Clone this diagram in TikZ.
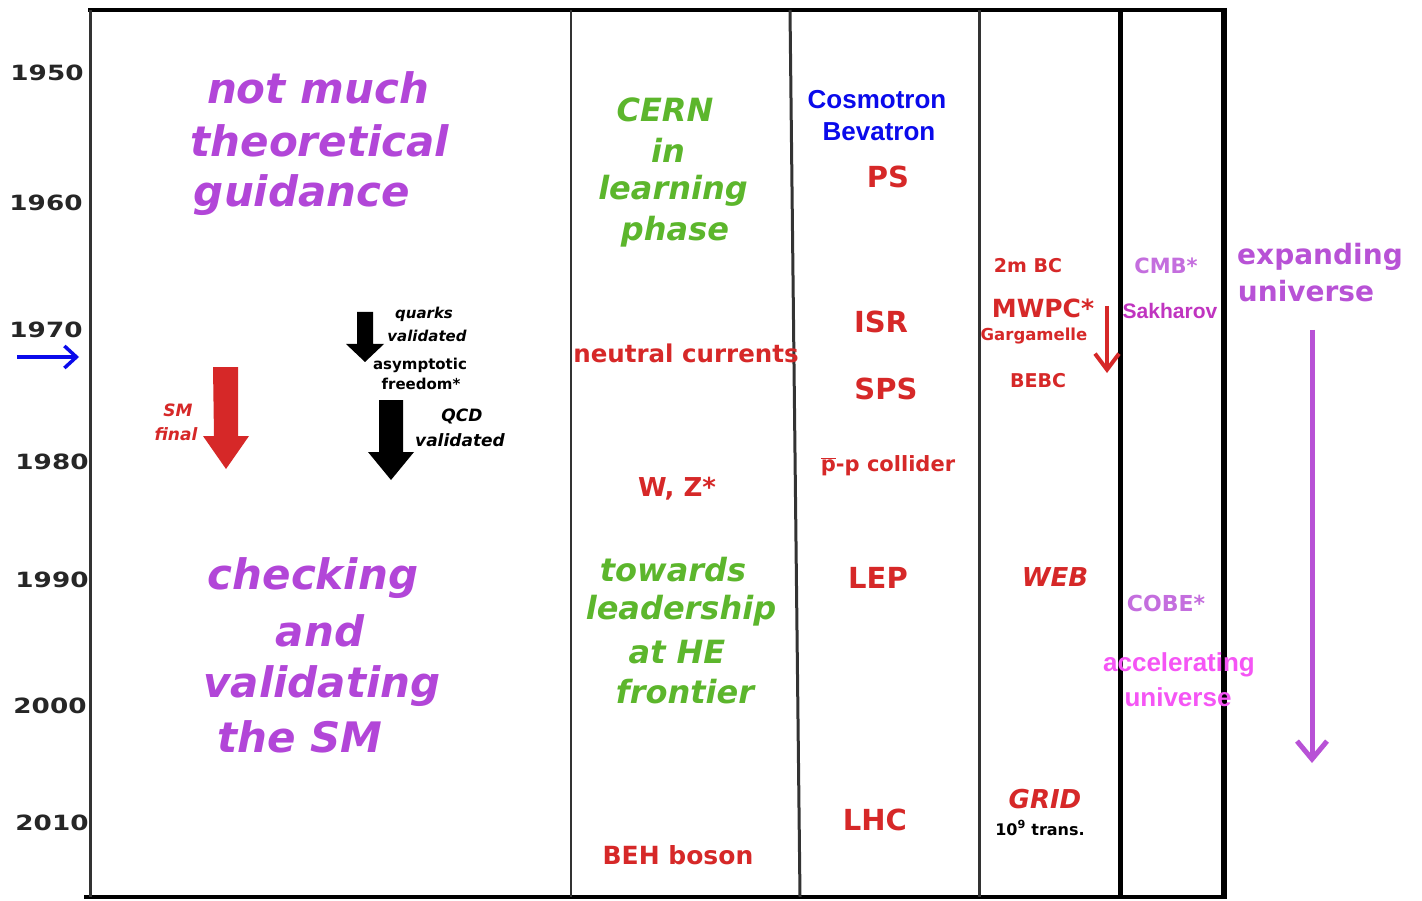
\documentclass[tikz,border=0pt]{standalone}
\usepackage{fontspec}
\setmainfont{DejaVu Sans}
\newfontfamily\arialf{Liberation Sans}
\newfontfamily\yearf[FakeStretch=1.25]{DejaVu Sans Bold}
\usetikzlibrary{arrows.meta}
\definecolor{purp}{RGB}{178,70,216}
\definecolor{grn}{RGB}{92,182,44}
\definecolor{rd}{RGB}{214,40,40}
\definecolor{blu}{RGB}{10,10,235}
\definecolor{mag}{RGB}{245,85,245}
\definecolor{sakh}{RGB}{192,52,192}
\definecolor{lpurp}{RGB}{196,110,222}
\definecolor{expc}{RGB}{184,82,214}
\tikzset{
  year/.style={font=\yearf\fontsize{21}{24}\selectfont, text=black!85},
  bigp/.style={font=\bfseries\itshape\fontsize{42}{48}\selectfont, text=purp},
  bigg/.style={font=\bfseries\itshape\fontsize{32}{36}\selectfont, text=grn},
  redt/.style={font=\bfseries\fontsize{#1}{#1}\selectfont, text=rd},
  redt/.default=30,
  redi/.style={font=\bfseries\itshape\fontsize{#1}{#1}\selectfont, text=rd},
  blkl/.style={font=\bfseries\itshape\fontsize{#1}{#1}\selectfont, text=black},
  blkn/.style={font=\bfseries\fontsize{#1}{#1}\selectfont, text=black},
  arl/.style={font=\arialf\bfseries\fontsize{#1}{#1}\selectfont},
  sep/.style={line width=#1, draw=black!80},
  blockarrow/.style={fill=#1, draw=none}
}
\begin{document}
\begin{tikzpicture}[x=1pt,y=-1pt]
\useasboundingbox[fill=white] (0,0) rectangle (1422,901);

% frame and column separators
\draw[sep=4pt, draw=black] (88,10) -- (1224,10);
\draw[sep=4pt, draw=black] (84,897) -- (1226,897);
\draw[sep=3pt] (90,10) -- (90,897);
\draw[sep=2.5pt] (571,10) -- (571,897);
\draw[sep=3pt] (790,10) -- (800,897);
\draw[sep=3pt] (979,10) -- (979,897);
\draw[sep=5pt, draw=black] (1120,10) -- (1120,897);
\draw[sep=5.5pt, draw=black] (1224,8) -- (1224,899);

% years
\node[year] (y1950) at (47,73) {1950};
\node[year] (y1960) at (46,203) {1960};
\node[year] (y1970) at (46,330) {1970};
\node[year] (y1980) at (52,462) {1980};
\node[year] (y1990) at (52,580) {1990};
\node[year] (y2000) at (50,706) {2000};
\node[year] (y2010) at (52,823) {2010};
\coordinate (ba1) at (17,357);
\coordinate (ba2) at (79,357);
\draw[line width=3.5pt, draw=blu, -{Straight Barb[length=12pt,width=22pt,line width=3.5pt]}] (ba1) -- (ba2);

% column 1
\node[bigp] (t1) at (318,88) {not much};
\node[bigp] (t2) at (320,141) {theoretical};
\node[bigp] (t3) at (302,195) {guidance};
\node[bigp] (c1) at (313,578) {checking};
\node[bigp] (c2) at (320,631) {and};
\node[bigp] (c3) at (322,686) {validating};
\node[bigp] (c4) at (300,737) {the SM};

\node[redi=17] (sm1) at (178,410) {SM};
\node[redi=17] (sm2) at (176,434) {final};
\fill[blockarrow=rd] (213,367) -- (238,367) -- (238,436) -- (249,436) -- (226,469) -- (203,436) -- (214,436) -- cycle;

\fill[blockarrow=black] (357,312) -- (373,312) -- (373,344) -- (384,344) -- (365,362) -- (346,344) -- (357,344) -- cycle;
\fill[blockarrow=black] (379,400) -- (403,400) -- (403,452) -- (414,452) -- (391,480) -- (368,452) -- (379,452) -- cycle;
\node[blkl=15] (q1) at (424,314) {quarks};
\node[blkl=15] (q2) at (427,336) {validated};
\node[blkn=15] (a1) at (420,365) {asymptotic};
\node[blkn=15] (a2) at (421,384) {freedom*};
\node[blkl=17] (qcd1) at (462,416) {QCD};
\node[blkl=17] (qcd2) at (460,440) {validated};

% column 2
\node[bigg] (g1) at (665,110) {CERN};
\node[bigg] (g2) at (668,150) {in};
\node[bigg] (g3) at (673,191) {learning};
\node[bigg] (g4) at (675,232) {phase};
\node[redt=24.5] (nc) at (686,353) {neutral currents};
\node[redt=26] (wz) at (677,489) {W, Z*};
\node[bigg] (h1) at (673,570) {towards};
\node[bigg] (h2) at (681,611) {leadership};
\node[bigg] (h3) at (677,652) {at HE};
\node[bigg] (h4) at (685,692) {frontier};
\node[redt=25] (beh) at (678,855) {BEH boson};

% column 3
\node[arl=26, text=blu] (cos) at (877,100) {Cosmotron};
\node[arl=26, text=blu] (bev) at (879,132) {Bevatron};
\node[redt=29] (ps) at (888,177) {PS};
\node[redt=29] (isr) at (881,322) {ISR};
\node[redt=29] (sps) at (886,389) {SPS};
\node[redt=21] (ppc) at (888,466) {$\overline{\mbox{p}}$-p collider};
\node[redt=29] (lep) at (878,578) {LEP};
\node[redt=29] (lhc) at (875,820) {LHC};

% column 4
\node[redt=19] (bc) at (1028,266) {2m BC};
\node[redt=25] (mwpc) at (1043,308) {MWPC*};
\node[redt=16.5] (garg) at (1034,336) {Gargamelle};
\node[redt=19] (bebc) at (1038,381) {BEBC};
\coordinate (ra1) at (1107,306);
\coordinate (ra2) at (1107,373);
\draw[line width=4pt, draw=rd, -{Straight Barb[length=16pt,width=24pt,line width=4pt]}] (ra1) -- (ra2);
\node[redi=26] (web) at (1055,577) {WEB};
\node[redi=26] (grid) at (1045,799) {GRID};
\node[blkn=16] (trans) at (1040,828) {10\textsuperscript{9} trans.};

% column 5
\node[redt=21, text=lpurp] (cmb) at (1166,266) {CMB*};
\node[arl=21, text=sakh] (sak) at (1170,311) {Sakharov};
\node[redt=22, text=lpurp] (cobe) at (1166,603) {COBE*};
\node[arl=26, text=mag] (acc1) at (1179,665) {accelerating};
\node[arl=26, text=mag] (acc2) at (1178,697) {universe};

% right side
\node[redt=28, text=expc] (ex1) at (1320,257) {expanding};
\node[redt=28, text=expc] (ex2) at (1306,291) {universe};
\coordinate (pa1) at (1312,330);
\coordinate (pa2) at (1312,763);
\draw[line width=5pt, draw=expc, -{Straight Barb[length=18pt,width=30pt,line width=5pt]}] (pa1) -- (pa2);
\end{tikzpicture}
\end{document}
